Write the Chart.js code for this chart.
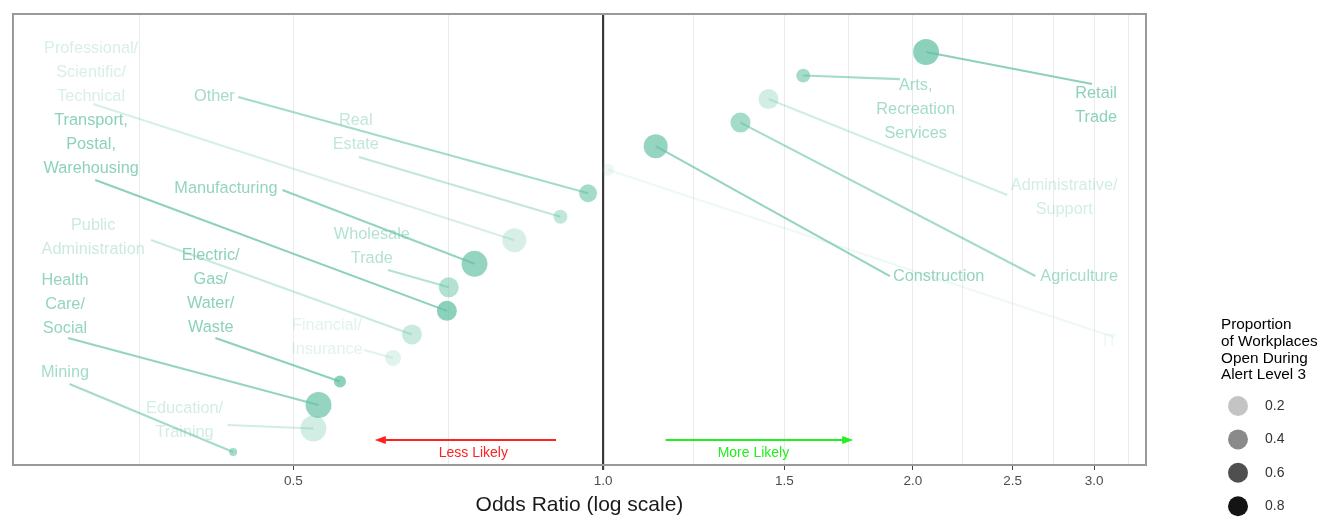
<!DOCTYPE html>
<html>
<head>
<meta charset="utf-8">
<script src="https://cdn.jsdelivr.net/npm/chart.js@4"></script>
<style>
	body { margin: 0; background: #fff; }
	#wrap { width: 1324px; height: 517px; }
</style>
</head>
<body>
<div id="wrap"><canvas id="oddsChart" width="1324" height="517"></canvas></div>
<script>
// industries, sorted by odds ratio (top to bottom)
const categories = ['Retail Trade', 'Arts, Recreation Services', 'Administrative/Support', 'Agriculture', 'Construction', 'IT',
	'Other', 'Real Estate', 'Professional/Scientific/Technical', 'Manufacturing', 'Wholesale Trade',
	'Transport, Postal, Warehousing', 'Public Administration', 'Financial/Insurance', 'Electric/Gas/Water/Waste',
	'Health Care/Social', 'Education/Training', 'Mining'];
const labelText = ['Retail\nTrade', 'Arts,\nRecreation\nServices', 'Administrative/\nSupport', 'Agriculture', 'Construction', 'IT',
	'Other', 'Real\nEstate', 'Professional/\nScientific/\nTechnical', 'Manufacturing', 'Wholesale\nTrade',
	'Transport,\nPostal,\nWarehousing', 'Public\nAdministration', 'Financial/\nInsurance', 'Electric/\nGas/\nWater/\nWaste',
	'Health\nCare/\nSocial', 'Education/\nTraining', 'Mining'];
const oddsRatio = [2.06, 1.565, 1.448, 1.36, 1.125, 1.011, 0.967, 0.909, 0.820, 0.750, 0.708, 0.705, 0.652, 0.625, 0.555, 0.529, 0.523, 0.437];
const rankPos = [1, 2, 3, 4, 5, 6, 7, 8, 9, 10, 11, 12, 13, 14, 15, 16, 17, 18];
const propOpen = [0.65, 0.52, 0.26, 0.52, 0.61, 0.10, 0.52, 0.35, 0.22, 0.61, 0.43, 0.65, 0.30, 0.17, 0.65, 0.61, 0.26, 0.52];
const workplaces = [42, 12, 25, 25, 36, 9, 20, 12, 36, 42, 25, 25, 25, 16, 9, 42, 42, 4];

// repelled label anchors (odds ratio, rank units)
const labelX = [3.014, 2.013, 2.806, 2.902, 2.119, 3.109, 0.419, 0.575, 0.318, 0.430, 0.596, 0.318, 0.3195, 0.539, 0.4156, 0.300, 0.392, 0.300];
const labelY = [3.29, 3.46, 7.18, 10.52, 10.52, 13.32, 2.87, 4.44, 1.85, 6.78, 9.26, 4.95, 8.90, 13.15, 11.19, 11.71, 16.64, 14.64];
const segX = [2.987, 1.943, 2.471, 2.631, 1.900, 3.137, 0.442, 0.579, 0.3195, 0.488, 0.618, 0.321, 0.3636, 0.5857, 0.420, 0.302, 0.4316, 0.303];
const segY = [2.36, 2.15, 7.08, 10.52, 10.52, 13.11, 2.91, 5.46, 3.21, 6.86, 10.26, 6.44, 8.99, 13.66, 13.15, 13.15, 16.85, 15.11];

// axis
const majorTicks = [0.5, 1.0, 1.5, 2.0, 2.5, 3.0];
const minorBreaks = [0.354, 0.707, 1.225, 1.732, 2.236, 2.739, 3.240];

// direction arrows
const arrowFrom = [0.90, 1.15];
const arrowTo = [0.60, 1.75];
const arrowTextX = [0.748, 1.40];
const arrowText = ['Less Likely', 'More Likely'];
const arrowColor = ['#ff2020', '#20f020'];
const arrowY = 17.49;
const arrowTextY = 18.04;

// size legend
const legendTitle = ['Proportion', 'of Workplaces', 'Open During', 'Alert Level 3'];
const legendValues = [0.2, 0.4, 0.6, 0.8];

const FONT = "'Liberation Sans', Arial, sans-serif";
const teal = a => `rgba(102,194,165,${a})`;
const alphaOf = p => Math.min(1, p * 1.15);
const radiusOf = n => 2 * Math.sqrt(n);

const segmentSets = categories.map((c, i) => ({
	type: 'line',
	label: c,
	data: [{ x: segX[i], y: segY[i] }, { x: oddsRatio[i], y: rankPos[i] }],
	borderColor: teal(alphaOf(propOpen[i])),
	borderWidth: 2.1,
	pointRadius: 0,
	fill: false,
	tension: 0
}));

const bubbleSet = {
	type: 'bubble',
	label: 'Odds ratio',
	data: oddsRatio.map((v, i) => ({ x: v, y: rankPos[i], r: radiusOf(workplaces[i]) })),
	backgroundColor: propOpen.map(p => teal(alphaOf(p))),
	borderWidth: 0
};

const framePlugin = {
	id: 'frame',
	afterDraw(chart) {
		const { ctx, chartArea: a } = chart;
		ctx.save();
		ctx.strokeStyle = '#999';
		ctx.lineWidth = 2;
		ctx.strokeRect(a.left, a.top, a.right - a.left, a.bottom - a.top);
		ctx.restore();
	}
};

const labelPlugin = {
	id: 'repelLabels',
	afterDatasetsDraw(chart) {
		const { ctx, scales: { x, y } } = chart;
		ctx.save();
		ctx.font = '16.3px ' + FONT;
		ctx.textAlign = 'center';
		ctx.textBaseline = 'middle';
		labelText.forEach((t, i) => {
			const lines = t.split('\n');
			const px = x.getPixelForValue(labelX[i]);
			const py = y.getPixelForValue(labelY[i]);
			ctx.fillStyle = teal(alphaOf(propOpen[i]));
			lines.forEach((ln, j) => {
				ctx.fillText(ln, px, py + (j - (lines.length - 1) / 2) * 24);
			});
		});

		// less / more likely arrows
		ctx.font = '14px ' + FONT;
		arrowFrom.forEach((f, i) => {
			const x0 = x.getPixelForValue(f);
			const x1 = x.getPixelForValue(arrowTo[i]);
			const ay = y.getPixelForValue(arrowY);
			const dir = Math.sign(x1 - x0);
			ctx.strokeStyle = arrowColor[i];
			ctx.fillStyle = arrowColor[i];
			ctx.lineWidth = 2;
			ctx.beginPath();
			ctx.moveTo(x0, ay);
			ctx.lineTo(x1 - dir * 6, ay);
			ctx.stroke();
			ctx.beginPath();
			ctx.moveTo(x1, ay);
			ctx.lineTo(x1 - dir * 11, ay - 4);
			ctx.lineTo(x1 - dir * 11, ay + 4);
			ctx.closePath();
			ctx.fill();
			ctx.fillText(arrowText[i], x.getPixelForValue(arrowTextX[i]), y.getPixelForValue(arrowTextY));
		});
		ctx.restore();
	}
};

const sizeLegendPlugin = {
	id: 'sizeLegend',
	afterDraw(chart) {
		const ctx = chart.ctx;
		ctx.save();
		ctx.font = '15.3px ' + FONT;
		ctx.textBaseline = 'middle';
		ctx.textAlign = 'left';
		ctx.fillStyle = '#000';
		legendTitle.forEach((t, i) => ctx.fillText(t, 1221, 325 + i * 16.7));
		ctx.font = '14px ' + FONT;
		legendValues.forEach((v, i) => {
			const cy = 406 + i * 33.4;
			ctx.fillStyle = `rgba(0,0,0,${alphaOf(v)})`;
			ctx.beginPath();
			ctx.arc(1238, cy, 10, 0, Math.PI * 2);
			ctx.fill();
			ctx.fillStyle = '#333';
			ctx.fillText(v.toFixed(1), 1265, cy);
		});
		ctx.restore();
	}
};

new Chart(document.getElementById('oddsChart'), {
	type: 'bubble',
	data: { datasets: [...segmentSets, bubbleSet] },
	options: {
		responsive: false,
		animation: false,
		layout: { padding: { left: 6, right: 178, top: 14, bottom: 0 } },
		scales: {
			x: {
				type: 'logarithmic',
				min: 0.267,
				max: 3.37,
				afterBuildTicks: s => {
					s.ticks = [...majorTicks, ...minorBreaks].sort((a, b) => a - b).map(v => ({ value: v }));
				},
				afterFit: s => { s.height = 52; },
				ticks: {
					autoSkip: false,
					maxRotation: 0,
					padding: 3,
					color: '#4d4d4d',
					font: { size: 13.5, family: FONT },
					callback: v => majorTicks.includes(v) ? v.toFixed(1) : ''
				},
				grid: {
					color: c => c.tick && c.tick.value === 1 ? '#3a3a3a' : '#ebebeb',
					lineWidth: c => c.tick && c.tick.value === 1 ? 2.2 : 1,
					tickColor: c => c.tick && majorTicks.includes(c.tick.value) ? '#444' : 'rgba(0,0,0,0)',
					tickLength: 5
				},
				border: { display: false },
				title: {
					display: true,
					text: 'Odds Ratio (log scale)',
					color: '#1a1a1a',
					font: { size: 21, family: FONT },
					padding: { top: 0, bottom: -1 }
				}
			},
			y: {
				type: 'linear',
				reverse: true,
				min: -0.616,
				max: 18.55,
				display: false
			}
		},
		plugins: {
			legend: { display: false },
			tooltip: { enabled: false }
		}
	},
	plugins: [framePlugin, labelPlugin, sizeLegendPlugin]
});
</script>
</body>
</html>
